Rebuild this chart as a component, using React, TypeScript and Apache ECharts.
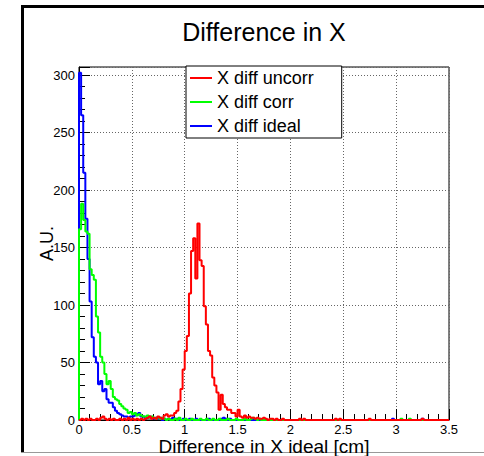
import React, { useEffect, useRef } from "react";
import * as echarts from "echarts";

const BIN_WIDTH = 0.02;
const X_MIN = 0;
const X_MAX = 3.5;
const Y_MAX = 307;
const titleText = "Difference in X";
const xTitle = "Difference in X ideal [cm]";
const yTitle = "A.U.";
const seriesNames = ["X diff uncorr", "X diff corr", "X diff ideal"];
const seriesColors = ["#ff0000", "#00ff00", "#0000ff"];

// 175 bins of width 0.02 from 0 to 3.5
const uncorr = [
  0, 1, 0, 1, 0, 1, 0, 0, 1, 0,
  2, 3, 1, 0, 1, 0, 1, 0, 0, 1,
  0, 1, 0, 2, 0, 1, 0, 1, 0, 1,
  0, 1, 2, 3, 1, 2, 1, 3, 2, 1,
  4, 5, 3, 4, 4, 6, 8, 16, 27, 44,
  60, 73, 110, 147, 158, 123, 171, 139, 134, 99,
  83, 60, 56, 37, 30, 24, 9, 22, 14, 11,
  9, 9, 6, 6, 3, 9, 3, 2, 4, 2,
  3, 2, 2, 1, 2, 1, 1, 2, 1, 0,
  1, 1, 0, 1, 0, 0, 1, 0, 0, 0,
  0, 0, 0, 0, 1, 0, 1, 0, 0, 0,
  0, 0, 0, 0, 0, 0, 0, 0, 0, 0,
  0, 1, 0, 1, 0, 0, 0, 0, 0, 0,
  0, 0, 0, 0, 0, 0, 0, 1, 0, 0,
  0, 0, 0, 0, 0, 0, 0, 0, 0, 0,
  0, 0, 0, 0, 0, 0, 0, 0, 0, 0,
  0, 0, 1, 0, 0, 0, 0, 0, 0, 0,
  0, 0, 0, 0, 0,
];

const corr = [
  166, 188, 174, 164, 162, 131, 126, 122, 90, 76,
  55, 50, 40, 31, 34, 27, 20, 18, 17, 14,
  12, 10, 9, 6, 7, 5, 6, 4, 5, 4,
  3, 3, 4, 2, 3, 2, 1, 2, 1, 2,
  1, 0, 1, 0, 0, 1, 0, 2, 0, 0,
  1, 0, 0, 1, 0, 0, 0, 1, 0, 0,
  1, 0, 0, 1, 0, 0, 1, 0, 0, 0,
  1, 0, 0, 0, 1, 0, 0, 0, 1, 0,
  0, 1, 2, 1, 0, 1, 0, 0, 0, 0,
  0, 0, 0, 0, 0, 0, 0, 0, 0, 0,
  0, 0, 0, 0, 0, 0, 0, 0, 0, 0,
  0, 0, 0, 0, 0, 0, 0, 0, 0, 0,
  0, 0, 0, 0, 0, 0, 0, 0, 0, 0,
  0, 0, 0, 0, 0, 0, 0, 0, 0, 0,
  0, 0, 0, 0, 0, 0, 0, 0, 0, 0,
  0, 0, 1, 0, 0, 0, 1, 0, 0, 0,
  0, 0, 0, 0, 0, 0, 0, 0, 0, 0,
  0, 0, 0, 0, 0,
];

const ideal = [
  302, 265, 215, 175, 140, 103, 72, 55, 50, 31,
  34, 25, 27, 18, 15, 15, 11, 8, 6, 5,
  4, 3, 3, 2, 3, 3, 4, 5, 6, 3,
  3, 1, 2, 3, 2, 1, 2, 1, 2, 0,
  1, 0, 1, 0, 2, 1, 1, 0, 0, 1,
  0, 0, 1, 0, 0, 1, 0, 0, 0, 0,
  0, 1, 0, 0, 0, 0, 0, 1, 2, 1,
  0, 1, 0, 0, 0, 0, 0, 0, 0, 0,
  0, 0, 0, 0, 0, 0, 0, 0, 0, 0,
  0, 0, 0, 0, 0, 0, 0, 0, 0, 0,
  0, 0, 0, 0, 0, 0, 0, 0, 0, 0,
  0, 0, 0, 0, 0, 0, 0, 0, 0, 0,
  0, 0, 0, 0, 0, 0, 0, 0, 0, 0,
  0, 0, 0, 0, 0, 0, 0, 0, 0, 0,
  0, 0, 0, 0, 0, 0, 0, 0, 1, 0,
  0, 0, 0, 0, 0, 0, 0, 0, 0, 0,
  0, 0, 1, 0, 0, 0, 0, 0, 0, 0,
  0, 0, 0, 0, 0,
];

const FONT = "'Liberation Sans', Arial, Helvetica, sans-serif";

function toSteps(vals: number[]): number[][] {
  const pts: number[][] = [[X_MIN, 0]];
  vals.forEach((v, i) => pts.push([X_MIN + i * BIN_WIDTH, v]));
  const end = X_MIN + vals.length * BIN_WIDTH;
  pts.push([end, vals[vals.length - 1]]);
  pts.push([end, 0]);
  return pts;
}

export default function App() {
  const ref = useRef<HTMLDivElement>(null);
  useEffect(() => {
    const chart = echarts.init(ref.current!, null, { renderer: "svg" });
    const data = [uncorr, corr, ideal];
    const drawOrder = [2, 1, 0];
    chart.setOption({
      animation: false,
      backgroundColor: "#fff",
      title: {
        text: titleText,
        left: 259,
        top: 14,
        textAlign: "center",
        textStyle: { fontSize: 25, fontWeight: "normal", color: "#000", fontFamily: FONT },
      },
      legend: {
        data: seriesNames,
        orient: "vertical",
        left: 186,
        top: 66,
        itemWidth: 22,
        itemHeight: 2,
        itemGap: 6,
        icon: "rect",
        padding: [3, 28, 3, 4],
        borderColor: "#000",
        borderWidth: 1,
        backgroundColor: "#fff",
        selectedMode: false,
        textStyle: { fontSize: 18, color: "#000", fontFamily: FONT },
      },
      grid: {
        left: 79,
        right: 35,
        top: 67,
        bottom: 36,
        outerBoundsMode: "none",
        containLabel: false,
        show: true,
        borderColor: "#000",
        borderWidth: 1,
        backgroundColor: "#fff",
      },
      xAxis: {
        type: "value",
        min: X_MIN,
        max: X_MAX,
        interval: 0.5,
        name: xTitle,
        nameLocation: "middle",
        nameGap: 17,
        nameMoveOverlap: false,
        nameTextStyle: { fontSize: 19, color: "#000", fontFamily: FONT },
        axisLine: { show: true, lineStyle: { color: "#000", width: 1 } },
        axisTick: { show: true, inside: true, length: 11, lineStyle: { color: "#000" } },
        minorTick: { show: true, splitNumber: 5, length: 6, lineStyle: { color: "#000" } },
        axisLabel: { fontSize: 13, color: "#000", fontFamily: FONT, margin: 3 },
        splitLine: { show: true, lineStyle: { color: "#666", type: [1, 2], width: 1 } },
      },
      yAxis: {
        type: "value",
        min: 0,
        max: Y_MAX,
        interval: 50,
        name: yTitle,
        nameLocation: "middle",
        nameGap: 23,
        nameRotate: 90,
        nameMoveOverlap: false,
        nameTextStyle: { fontSize: 18, color: "#000", fontFamily: FONT },
        axisLine: { show: true, lineStyle: { color: "#000", width: 1 } },
        axisTick: { show: true, inside: true, length: 11, lineStyle: { color: "#000" } },
        minorTick: { show: true, splitNumber: 5, length: 6, lineStyle: { color: "#000" } },
        axisLabel: { fontSize: 13, color: "#000", fontFamily: FONT, margin: 4 },
        splitLine: { show: true, lineStyle: { color: "#666", type: [1, 2], width: 1 } },
      },
      graphic: [
        { type: "rect", shape: { x: 21, y: 5, width: 463, height: 3 }, style: { fill: "#000" } },
        { type: "rect", shape: { x: 21, y: 5, width: 3, height: 447 }, style: { fill: "#000" } },
        { type: "line", shape: { x1: 21, y1: 452.5, x2: 484, y2: 452.5 }, style: { stroke: "#999", lineWidth: 1 } },
      ],
      series: drawOrder.map((i) => ({
        name: seriesNames[i],
        type: "line",
        step: "end",
        data: toSteps(data[i]),
        showSymbol: false,
        symbol: "none",
        color: seriesColors[i],
        lineStyle: { color: seriesColors[i], width: 2 },
        z: 2 + (2 - i),
      })),
    });
    return () => chart.dispose();
  }, []);
  return (
    <div
      ref={ref}
      style={{ position: "absolute", left: 0, top: 0, width: 484, height: 456 }}
    />
  );
}
